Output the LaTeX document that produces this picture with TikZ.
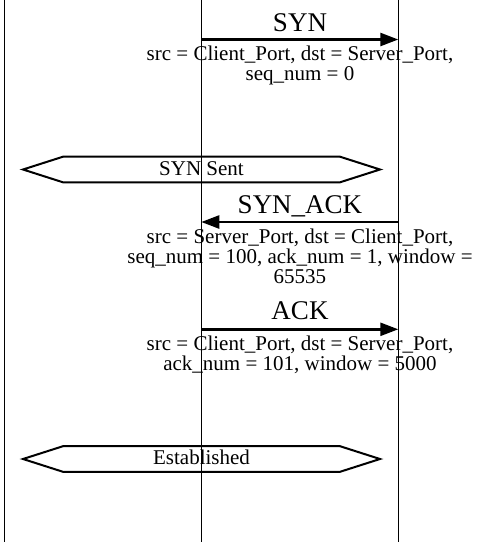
\documentclass[tikz,border=0pt]{standalone}
\usepackage{fontspec}
\setmainfont{Liberation Serif}
\usetikzlibrary{arrows.meta}
\begin{document}
\begin{tikzpicture}[x=1pt,y=-1pt,
  lifeline/.style={line width=1pt},
  msg/.style={line width=2.5pt, -{Triangle[length=18pt,width=13pt]}},
  msgtitle/.style={font=\fontsize{27}{27}\selectfont, inner sep=0pt, anchor=base},
  detail/.style={font=\fontsize{21}{20}\selectfont, align=center, inner sep=0pt, anchor=base},
  hexa/.style={line width=2pt, line join=miter},
  statetext/.style={font=\fontsize{21}{20}\selectfont, inner sep=0pt, anchor=base}]
\useasboundingbox (0,0) rectangle (477,542);
% lifelines
\coordinate (A0) at (4.5,0);   \coordinate (A1) at (4.5,542);
\coordinate (C0) at (201.3,0); \coordinate (C1) at (201.3,542);
\coordinate (S0) at (398.3,0); \coordinate (S1) at (398.3,542);
\draw[lifeline] (A0) -- (A1);
\draw[lifeline] (C0) -- (C1);
\draw[lifeline] (S0) -- (S1);
% SYN
\coordinate (synC) at (201.3,39.5); \coordinate (synS) at (398.3,39.5);
\draw[msg] (synC) -- (synS);
\node[msgtitle] (synT) at (300,31.7) {SYN};
\node[detail] (synD) at (300,80) {src = Client\_Port, dst = Server\_Port,\\seq\_num = 0};
% SYN Sent
\draw[hexa] (23,169.5) -- (63,156.7) -- (340,156.7) -- (380,169.5) -- (340,182.3) -- (63,182.3) -- cycle;
\node[statetext] (st1) at (201.5,175) {SYN Sent};
% SYN_ACK
\coordinate (saS) at (398.3,222); \coordinate (saC) at (201.3,222);
\draw[msg] (saS) -- (saC);
\node[msgtitle] (saT) at (300,213) {SYN\_ACK};
\node[detail] (saD) at (300,283.3) {src = Server\_Port, dst = Client\_Port,\\seq\_num = 100, ack\_num = 1, window =\\65535};
% ACK
\coordinate (ackC) at (201.3,329.3); \coordinate (ackS) at (398.3,329.3);
\draw[msg] (ackC) -- (ackS);
\node[msgtitle] (ackT) at (300,319) {ACK};
\node[detail] (ackD) at (300,370) {src = Client\_Port, dst = Server\_Port,\\ack\_num = 101, window = 5000};
% Established
\draw[hexa] (23,459) -- (63,446.2) -- (340,446.2) -- (380,459) -- (340,471.8) -- (63,471.8) -- cycle;
\node[statetext] (st2) at (201.5,464.5) {Established};
\end{tikzpicture}
\end{document}
